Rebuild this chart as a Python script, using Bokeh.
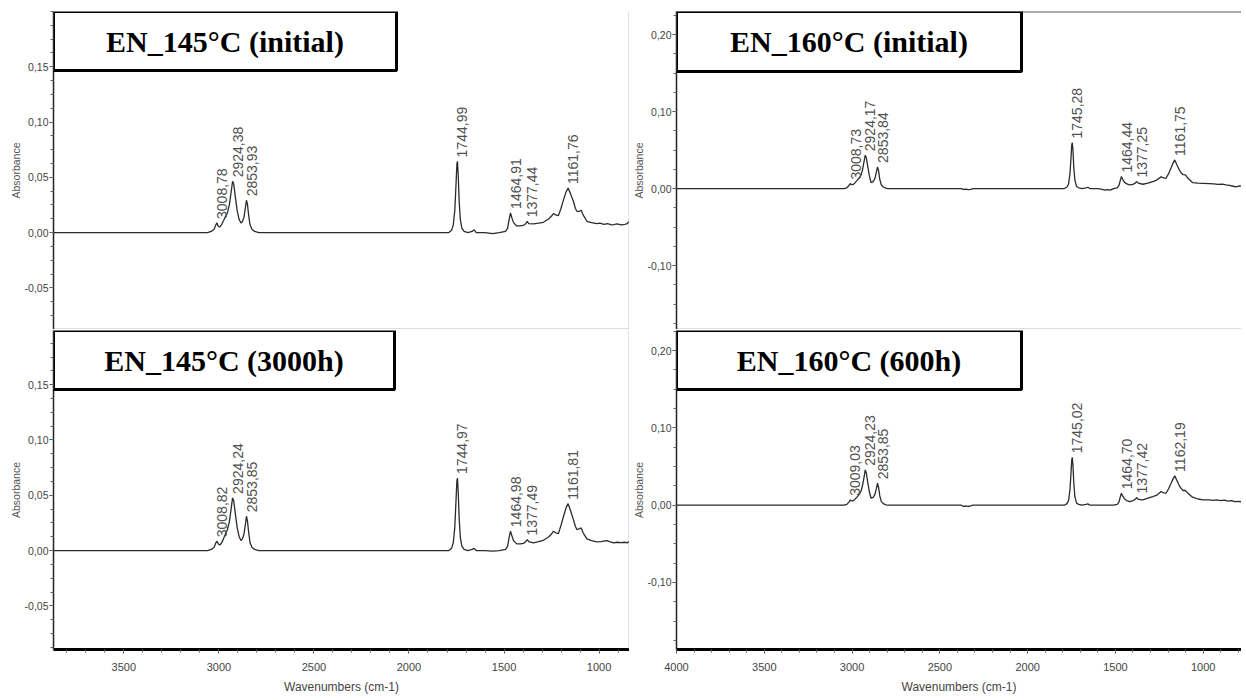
import math
from bokeh.plotting import figure
from bokeh.layouts import row, column
from bokeh.models import (FixedTicker, CustomJSTickFormatter, BoxAnnotation, Label,
                          Span, Range1d)
from bokeh.core.properties import value
from bokeh.embed import file_html
from bokeh.resources import INLINE

# ---------------- data ----------------
titles = ["EN_145°C (initial)", "EN_145°C (3000h)", "EN_160°C (initial)", "EN_160°C (600h)"]

tl_wn = [3870, 3300, 3060, 3040, 3025, 3016, 3010, 3004, 2996, 2986, 2975, 2965, 2955, 2945, 2936, 2928,
         2922, 2914, 2904, 2894, 2884, 2876, 2868, 2861, 2855, 2850, 2843, 2836, 2826, 2812, 2790, 2400,
         1900, 1790, 1776, 1767, 1759, 1753, 1748, 1745, 1741, 1736, 1730, 1722, 1710, 1690, 1668, 1657,
         1646, 1600, 1560, 1525, 1492, 1481, 1473, 1466, 1460, 1450, 1433, 1415, 1398, 1386, 1378, 1370,
         1345, 1318, 1293, 1266, 1250, 1240, 1228, 1214, 1200, 1187, 1173, 1163, 1150, 1135, 1125, 1117,
         1105, 1094, 1084, 1064, 1040, 1012, 995, 975, 955, 935, 924, 905, 885, 865, 852, 845, 838, 833, 826]
tl_ab = [0, 0, 0, 0.001, 0.003, 0.007, 0.0087, 0.006, 0.005, 0.007, 0.011, 0.0147, 0.018, 0.025, 0.036, 0.0464,
         0.044, 0.033, 0.020, 0.012, 0.0087, 0.010, 0.014, 0.022, 0.0292, 0.026, 0.015, 0.007, 0.003, 0.001, 0, 0,
         0, 0, 0.002, 0.007, 0.020, 0.042, 0.062, 0.0644, 0.052, 0.028, 0.012, 0.004, 0.001, 0, 0.001, 0.0025,
         0, 0, -0.001, 0, 0.001, 0.004, 0.012, 0.0178, 0.014, 0.009, 0.006, 0.006, 0.0066, 0.008, 0.0102, 0.008,
         0.0078, 0.0085, 0.0093, 0.0123, 0.015, 0.0172, 0.016, 0.0153, 0.022, 0.0298, 0.037, 0.0403, 0.035, 0.0283, 0.022, 0.0193,
         0.019, 0.0202, 0.016, 0.0102, 0.009, 0.0081, 0.0085, 0.0075, 0.008, 0.007, 0.0072, 0.0078, 0.007, 0.0075, 0.008, 0.0096, 0.0085, 0.0066, 0.007]

bl_wn = [3870, 3300, 3060, 3040, 3025, 3016, 3009, 3003, 2995, 2985, 2975, 2965, 2955, 2945, 2936, 2928,
         2922, 2914, 2904, 2894, 2884, 2876, 2868, 2861, 2855, 2850, 2843, 2836, 2826, 2812, 2790, 2400,
         1900, 1790, 1776, 1767, 1759, 1753, 1748, 1745, 1741, 1736, 1730, 1722, 1710, 1690, 1668, 1657,
         1646, 1600, 1560, 1525, 1492, 1481, 1473, 1466, 1460, 1450, 1433, 1415, 1398, 1386, 1378, 1370,
         1345, 1318, 1293, 1266, 1250, 1240, 1228, 1214, 1200, 1187, 1173, 1163, 1150, 1135, 1125, 1117,
         1105, 1094, 1084, 1064, 1040, 1012, 990, 975, 960, 945, 924, 905, 885, 865, 850, 840, 830]
bl_ab = [0, 0, 0, 0.001, 0.003, 0.007, 0.0084, 0.006, 0.005, 0.007, 0.011, 0.0153, 0.019, 0.026, 0.037, 0.0476,
         0.045, 0.034, 0.021, 0.013, 0.009, 0.0105, 0.015, 0.023, 0.031, 0.027, 0.016, 0.007, 0.003, 0.001, 0, 0,
         0, 0, 0.002, 0.007, 0.021, 0.044, 0.063, 0.0656, 0.053, 0.029, 0.012, 0.004, 0.001, 0, 0.001, 0.002,
         0, 0, -0.0005, 0, 0.001, 0.004, 0.012, 0.0175, 0.014, 0.009, 0.006, 0.006, 0.0065, 0.008, 0.0099, 0.008,
         0.0069, 0.008, 0.0093, 0.0123, 0.015, 0.0175, 0.016, 0.0153, 0.023, 0.031, 0.039, 0.0424, 0.036, 0.028, 0.022, 0.019,
         0.0195, 0.0205, 0.016, 0.0105, 0.009, 0.0078, 0.008, 0.0085, 0.009, 0.008, 0.0069, 0.0075, 0.0072, 0.0075, 0.007, 0.0084, 0.007]

tr_wn = [4000, 3300, 3045, 3030, 3018, 3010, 3004, 2996, 2985, 2970, 2957, 2948, 2940, 2932, 2925, 2919,
         2911, 2902, 2892, 2880, 2870, 2862, 2855, 2849, 2842, 2834, 2822, 2808, 2795, 2400, 2380, 2365,
         2350, 2340, 2325, 2310, 1900, 1790, 1776, 1767, 1759, 1753, 1749, 1746, 1742, 1737, 1731, 1722,
         1710, 1690, 1668, 1657, 1646, 1600, 1575, 1560, 1545, 1530, 1510, 1490, 1480, 1472, 1466, 1459,
         1448, 1435, 1420, 1400, 1388, 1378, 1370, 1344, 1315, 1287, 1265, 1240, 1226, 1212, 1198, 1183,
         1170, 1162, 1150, 1138, 1127, 1115, 1102, 1085, 1061, 1030, 1000, 966, 940, 915, 890, 871, 850,
         830, 814, 795, 780, 760]
tr_ab = [0, 0, 0, 0.001, 0.004, 0.0065, 0.005, 0.005, 0.007, 0.011, 0.0143, 0.018, 0.025, 0.035, 0.0433, 0.040,
         0.029, 0.017, 0.0078, 0.009, 0.013, 0.021, 0.0281, 0.023, 0.012, 0.005, 0.002, 0.0005, 0, 0, 0, -0.0012,
         -0.0008, -0.0015, -0.001, 0, 0, 0, 0.002, 0.006, 0.019, 0.040, 0.056, 0.0598, 0.050, 0.027, 0.011, 0.003,
         0.001, 0, 0.0008, 0.0017, 0, 0, -0.001, -0.002, -0.0015, -0.002, 0, 0.001, 0.004, 0.011, 0.0156, 0.012,
         0.008, 0.006, 0.0048, 0.0055, 0.007, 0.0091, 0.007, 0.0056, 0.007, 0.0091, 0.011, 0.0152, 0.014, 0.0134, 0.019, 0.027,
         0.034, 0.0372, 0.031, 0.025, 0.0208, 0.018, 0.0178, 0.013, 0.0078, 0.007, 0.0068, 0.0065, 0.006, 0.0055, 0.0058, 0.0048, 0.004,
         0.003, 0.0022, 0.0035, 0.003, 0.0035]

br_wn = [4000, 3300, 3045, 3030, 3018, 3010, 3004, 2996, 2985, 2970, 2957, 2948, 2940, 2932, 2925, 2919,
         2911, 2902, 2892, 2880, 2870, 2862, 2855, 2849, 2842, 2834, 2822, 2808, 2795, 2400, 2380, 2365,
         2350, 2340, 2325, 2310, 1900, 1790, 1776, 1767, 1759, 1753, 1749, 1746, 1742, 1737, 1731, 1722,
         1710, 1690, 1668, 1657, 1646, 1600, 1510, 1490, 1480, 1472, 1466, 1459, 1448, 1435, 1420, 1400,
         1388, 1378, 1370, 1344, 1315, 1287, 1265, 1240, 1226, 1212, 1198, 1183, 1170, 1162, 1150, 1138,
         1127, 1115, 1102, 1085, 1061, 1030, 1000, 966, 945, 925, 900, 880, 860, 840, 820, 800, 780, 760]
br_ab = [0, 0, 0, 0.001, 0.004, 0.0069, 0.0055, 0.0055, 0.0075, 0.011, 0.0147, 0.019, 0.026, 0.036, 0.0457, 0.042,
         0.030, 0.018, 0.009, 0.010, 0.014, 0.021, 0.0284, 0.023, 0.012, 0.005, 0.002, 0.0005, 0, 0, 0, -0.0017,
         -0.001, -0.0017, -0.001, 0, 0, 0, 0.002, 0.006, 0.020, 0.042, 0.058, 0.062, 0.052, 0.028, 0.011, 0.003,
         0.001, 0, 0.001, 0.0017, 0, 0, 0, 0.001, 0.004, 0.011, 0.0155, 0.012, 0.008, 0.006, 0.0047, 0.006,
         0.0075, 0.0099, 0.0075, 0.0069, 0.009, 0.0112, 0.013, 0.0177, 0.016, 0.0155, 0.021, 0.0284, 0.035, 0.0379, 0.032, 0.026,
         0.022, 0.019, 0.019, 0.015, 0.0103, 0.008, 0.007, 0.0069, 0.0062, 0.0070, 0.0058, 0.0065, 0.0052, 0.006, 0.0045, 0.005, 0.0043, 0.0045]

tl_pk = [3008.78, 2924.38, 2853.93, 1744.99, 1464.91, 1377.44, 1161.76]
tl_pk_ab = [0.0087, 0.0464, 0.0292, 0.0644, 0.0178, 0.0102, 0.0403]
bl_pk = [3008.82, 2924.24, 2853.85, 1744.97, 1464.98, 1377.49, 1161.81]
bl_pk_ab = [0.0084, 0.0476, 0.031, 0.0656, 0.0175, 0.0099, 0.0424]
tr_pk = [3008.73, 2924.17, 2853.84, 1745.28, 1464.44, 1377.25, 1161.75]
tr_pk_ab = [0.0065, 0.0433, 0.0281, 0.0598, 0.0156, 0.0091, 0.0372]
br_pk = [3009.03, 2924.23, 2853.85, 1745.02, 1464.70, 1377.42, 1162.19]
br_pk_ab = [0.0069, 0.0457, 0.0284, 0.062, 0.0155, 0.0099, 0.0379]

left_xticks = [3500, 3000, 2500, 2000, 1500, 1000]
right_xticks = [4000, 3500, 3000, 2500, 2000, 1500, 1000]
left_yticks = [-0.05, 0.0, 0.05, 0.10, 0.15]
right_yticks = [-0.10, 0.0, 0.10, 0.20]

# ---------------- helpers ----------------
FMT_Y = CustomJSTickFormatter(code="return tick.toFixed(2).replace('.', ',');")


def frange(a, b, step):
    n = int(round((b - a) / step))
    return [round(a + i * step, 6) for i in range(n + 1)]


def panel(wn, ab, pk, pk_ab, title, xr, yr, yticks, yminor_step, xticks, fw, fh,
          bottom_axis, bl, bt, bb, br, box_px, top_line=False, bottom_line=False,
          right_line=False):
    p = figure(frame_width=fw, frame_height=fh,
               x_range=Range1d(*xr), y_range=Range1d(*yr),
               output_backend="svg", toolbar_location=None,
               x_axis_location="below" if bottom_axis else None,
               min_border_left=bl, min_border_top=bt, min_border_bottom=bb,
               min_border_right=br)
    p.outline_line_color = None
    p.xgrid.visible = False
    p.ygrid.visible = False
    p.background_fill_color = "white"
    p.border_fill_color = "white"

    ya = p.yaxis[0]
    ya.ticker = FixedTicker(ticks=yticks,
                            minor_ticks=frange(-0.25, 0.25, yminor_step))
    ya.formatter = FMT_Y
    ya.axis_label = "Absorbance"
    ya.axis_label_text_font = "Liberation Sans"
    ya.axis_label_text_font_style = "normal"
    ya.axis_label_text_font_size = "10.5px"
    ya.axis_label_text_color = "#555555"
    ya.axis_label_standoff = 0
    ya.major_label_text_font = "Liberation Sans"
    ya.major_label_text_font_size = "10.5px"
    ya.major_label_text_color = "#444444"
    ya.major_label_standoff = 1
    ya.major_tick_out = 4
    ya.major_tick_in = 0
    ya.minor_tick_out = 3
    ya.minor_tick_in = 0
    ya.axis_line_color = "#222222"
    ya.axis_line_width = 1.5
    ya.major_tick_line_color = "#444444"
    ya.minor_tick_line_color = "#666666"

    if bottom_axis:
        xa = p.xaxis[0]
        xa.ticker = FixedTicker(ticks=xticks, minor_ticks=list(range(700, 4101, 100)))
        xa.axis_label = "Wavenumbers (cm-1)"
        xa.axis_label_text_font = "Liberation Sans"
        xa.axis_label_text_font_style = "normal"
        xa.axis_label_text_font_size = "12px"
        xa.axis_label_text_color = "#444444"
        xa.axis_label_standoff = 6
        xa.major_label_text_font = "Liberation Sans"
        xa.major_label_text_font_size = "11px"
        xa.major_label_text_color = "#444444"
        xa.major_label_standoff = 9
        xa.major_tick_out = 4
        xa.major_tick_in = 0
        xa.minor_tick_out = 3
        xa.minor_tick_in = 0
        xa.axis_line_color = "black"
        xa.axis_line_width = 3
        xa.major_tick_line_color = "#444444"
        xa.minor_tick_line_color = "#666666"

    if top_line:
        p.add_layout(Span(location=yr[1], dimension="width", line_color="#555555", line_width=2))
    if bottom_line:
        p.add_layout(Span(location=yr[0], dimension="width", line_color="#777777", line_width=1.5))
    if right_line:
        p.add_layout(Span(location=xr[1], dimension="height", line_color="#8a8a8a", line_width=1.5))

    p.line(wn, ab, line_color="#2b2b2b", line_width=1.3)

    labels = [("%.2f" % w).replace(".", ",") for w in pk]
    p.text(x=pk, y=pk_ab, text=labels, angle=math.pi / 2,
           text_align="left", text_baseline="middle",
           x_offset=5, y_offset=-4,
           text_font=value("Liberation Sans"), text_font_size="14px",
           text_color="#505050")

    # title box (decoration) placed relative to the frame
    bw, bh = box_px
    x0, x1 = xr
    y0, y1 = yr
    bx = x0 + (x1 - x0) * bw / fw
    by = y1 - (y1 - y0) * bh / fh
    p.add_layout(BoxAnnotation(left=x0, right=bx, top=y1, bottom=by,
                               fill_color="white", fill_alpha=1.0,
                               line_color="black", line_width=3, line_alpha=1.0))
    cx = x0 + (x1 - x0) * (bw / 2.0) / fw
    cy = y1 - (y1 - y0) * (bh / 2.0) / fh
    p.add_layout(Label(x=cx, y=cy, text=title, text_align="center", text_baseline="middle",
                       text_font="Liberation Serif", text_font_style="bold",
                       text_font_size="30px", text_color="black"))
    return p


L_FW, R_FW = 576, 565
T_FH, B_FH = 318, 319
L_XR = (3870, 840)
R_XR = (4000, 782)

tl = panel(tl_wn, tl_ab, tl_pk, tl_pk_ab, titles[0], L_XR, (-0.0877, 0.2),
           left_yticks, 0.0125, left_xticks, L_FW, T_FH, False, 53, 11, 0, 0, (343, 59),
           bottom_line=True, right_line=True)
bl = panel(bl_wn, bl_ab, bl_pk, bl_pk_ab, titles[1], L_XR, (-0.0895, 0.199),
           left_yticks, 0.0125, left_xticks, L_FW, B_FH, True, 53, 1, 45, 0, (341, 59),
           right_line=True)
tr = panel(tr_wn, tr_ab, tr_pk, tr_pk_ab, titles[2], R_XR, (-0.183, 0.2299),
           right_yticks, 0.025, right_xticks, R_FW, T_FH, False, 41, 11, 0, 0, (345, 60),
           top_line=True, bottom_line=True)
br = panel(br_wn, br_ab, br_pk, br_pk_ab, titles[3], R_XR, (-0.1867, 0.226),
           right_yticks, 0.025, right_xticks, R_FW, B_FH, True, 41, 1, 45, 0, (345, 59))

left = column(tl, bl, spacing=0)
right = column(tr, br, spacing=0)
layout = row(left, right, spacing=0)

open("out.html", "w").write(file_html(layout, INLINE))
